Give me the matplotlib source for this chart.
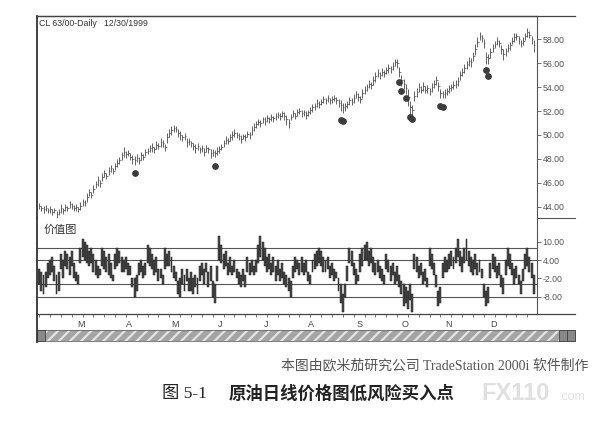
import numpy as np
import matplotlib
matplotlib.use("Agg")
import matplotlib.pyplot as plt
from matplotlib.lines import Line2D
from matplotlib.patches import Rectangle

plt.rcParams['font.family'] = ['Liberation Sans', 'Noto Sans CJK SC', 'DejaVu Sans']
plt.rcParams['hatch.linewidth'] = 1.6

# ── Data ──────────────────────────────────────────────────────────────────────
# daily closes of CL 03/00, Feb .. Dec 1999
close = [
    44.1, 43.9, 43.8, 43.9, 43.7, 43.8, 43.6, 43.7, 43.4, 43.6,
    43.9, 43.7, 44.0, 43.9, 44.2, 44.1, 43.9, 44.0, 43.8, 44.1,
    44.4, 44.3, 44.8, 45.2, 45.0, 45.5, 45.9, 46.2, 46.0, 46.5,
    46.8, 46.6, 47.0, 47.2, 47.0, 47.4, 47.7, 47.9, 48.3, 48.6,
    48.4, 48.5, 48.2, 48.0, 47.9, 48.1, 47.9, 48.3, 48.2, 48.6,
    48.7, 48.9, 49.0, 48.8, 49.2, 49.1, 49.4, 49.3, 49.0, 49.8,
    50.2, 50.4, 50.6, 50.5, 50.2, 50.0, 49.8, 49.9, 49.4, 49.5,
    49.3, 49.1, 48.9, 49.1, 48.8, 48.9, 48.6, 48.9, 48.8, 48.5,
    48.6, 48.5, 48.7, 48.8, 49.0, 49.3, 49.6, 49.5, 49.8, 50.0,
    50.2, 50.0, 49.9, 49.7, 49.9, 49.8, 50.1, 50.0, 50.4, 50.7,
    50.9, 51.1, 51.0, 51.3, 51.2, 51.4, 51.3, 51.5, 51.4, 51.6,
    51.7, 51.6, 51.8, 51.6, 51.3, 51.0, 51.5, 51.8, 51.6, 51.9,
    52.0, 51.8, 51.9, 51.7, 51.9, 52.1, 52.3, 52.4, 52.7, 52.6,
    52.8, 53.0, 52.9, 53.1, 52.9, 53.0, 53.1, 52.9, 52.7, 52.5,
    52.3, 52.4, 52.6, 52.9, 52.8, 53.1, 53.4, 53.2, 53.0, 53.5,
    53.8, 54.0, 54.3, 54.2, 54.6, 54.9, 55.2, 55.0, 55.3, 55.2,
    55.4, 55.6, 55.5, 55.8, 56.1, 56.0, 55.3, 54.6, 54.3, 53.9,
    53.2, 52.3, 52.1, 53.3, 53.6, 54.0, 53.8, 54.1, 53.8, 53.9,
    53.7, 54.0, 54.3, 54.6, 54.1, 53.5, 53.4, 53.5, 53.7, 53.9,
    54.0, 54.2, 54.3, 54.5, 55.0, 55.3, 55.6, 55.9, 56.2, 56.1,
    56.6, 57.2, 57.8, 58.3, 58.1, 57.7, 56.5, 56.4, 56.9, 57.3,
    57.6, 57.9, 57.7, 57.2, 56.8, 57.0, 57.3, 57.5, 57.9, 58.2,
    58.3, 58.0, 57.7, 57.9, 58.3, 58.6, 58.4, 58.0, 57.5,
]
# daily range, tenths of a dollar
rng10 = [
    5, 4, 6, 5, 4, 6, 5, 4, 6, 5,
    7, 5, 6, 4, 6, 5, 5, 6, 4, 6,
    6, 5, 7, 6, 5, 7, 6, 8, 6, 7,
    6, 5, 7, 6, 5, 6, 7, 6, 7, 8,
    6, 5, 6, 8, 8, 7, 6, 7, 5, 6,
    5, 6, 7, 5, 6, 5, 7, 6, 6, 8,
    6, 7, 6, 5, 6, 7, 5, 6, 8, 6,
    5, 6, 7, 6, 5, 6, 7, 6, 5, 7,
    6, 6, 7, 6, 5, 6, 7, 5, 6, 7,
    6, 5, 6, 7, 5, 6, 5, 6, 7, 6,
    6, 5, 6, 5, 7, 6, 5, 6, 5, 6,
    5, 6, 5, 7, 8, 8, 5, 6, 5, 6,
    5, 6, 5, 6, 5, 6, 7, 6, 7, 6,
    5, 6, 5, 6, 5, 6, 5, 6, 7, 9,
    8, 7, 6, 7, 6, 7, 6, 7, 6, 7,
    7, 6, 7, 6, 7, 8, 7, 6, 7, 6,
    6, 7, 6, 7, 6, 7, 8, 9, 8, 8,
    14, 12, 10, 9, 7, 8, 6, 7, 6, 7,
    6, 7, 6, 7, 8, 8, 6, 7, 6, 7,
    6, 7, 6, 7, 8, 7, 8, 7, 8, 7,
    8, 9, 8, 7, 6, 7, 10, 8, 9, 7,
    6, 7, 6, 8, 9, 7, 6, 7, 6, 7,
    6, 7, 6, 7, 6, 7, 6, 7, 10,
]
# value chart bars (high / low)
v_high = [
    1, 0, -1, 0, 3, 4, 5, 2, -1, 0,
    6, 4, 7, 6, 5, 7, 3, 0, -1, 8,
    11, 10, 9, 7, 8, 6, 4, 2, 1, 8,
    7, 5, 6, 3, -1, 6, 8, 7, 5, 4,
    5, 3, 2, -2, -2, -1, 3, 4, 2, 3,
    9, 8, 6, 4, 5, 1, 1, -1, 8, 6,
    7, 5, 2, 0, -3, -2, 1, -1, 1, -2,
    0, -2, -1, -2, 2, 3, 1, 3, 0, 2,
    -3, -4, 2, 12, 9, 6, 7, 3, 5, 2,
    4, 1, 0, -1, 1, -1, 5, 3, 4, 2,
    4, 9, 12, 10, 8, 5, 6, 3, 5, 2,
    4, 1, 3, 0, -1, -2, -3, 2, 5, 4,
    3, 5, 3, 4, 0, -1, 4, 6, 7, 8,
    7, 5, 4, 5, 2, 3, 1, 0, -2, -4,
    -7, -4, 2, 8, 7, 3, 1, -1, 6, 8,
    9, 10, 7, 8, 5, 3, 4, 2, 1, -1,
    6, 4, 2, 3, 0, 2, -1, -3, -4, -5,
    -6, -4, -7, 6, 5, 2, 3, 0, 1, -2,
    8, 6, 3, -1, -6, -5, 3, 5, 4, 6,
    7, 5, 8, 11, 7, 5, 8, 11, 7, 5,
    4, 6, 3, 4, 1, -4, -6, -5, 3, 6,
    5, 2, 3, -1, -2, 4, 8, 6, 3, 1,
    2, -1, -3, 1, 6, 8, 5, 3, -1,
]
v_low = [
    -4, -6, -7, -5, -2, -1, 0, -3, -7, -6,
    1, -2, 2, 1, -1, 2, -2, -3, -4, 3,
    5, 4, 3, 2, 3, 0, -1, -2, -1, 2,
    1, 0, -1, -2, -3, 1, 2, 3, 0, 0,
    1, -1, -1, -5, -8, -6, -1, 0, -2, -1,
    3, 2, 1, -1, 0, -3, -2, -4, 1, 2,
    2, 0, -2, -3, -7, -8, -4, -6, -3, -6,
    -6, -7, -5, -7, -3, -1, -4, 0, -5, -3,
    -8, -10, -3, 4, 3, 1, 2, -1, 0, -1,
    0, -2, -4, -5, -3, -5, 0, -1, 0, -1,
    0, 3, 5, 4, 2, 0, 1, -1, 0, -3,
    -1, -3, -2, -4, -5, -6, -8, -2, 0, 1,
    -1, 0, -1, 0, -3, -4, 0, 1, 2, 3,
    2, 0, 0, 1, -2, -1, -3, -2, -6, -10,
    -13, -8, -3, 3, 2, -1, -4, -3, 0, 2,
    4, 4, 2, 3, 0, -1, 0, -2, -3, -4,
    1, 0, -3, -1, -4, -3, -5, -7, -11, -10,
    -12, -9, -13, 1, 0, -2, -1, -4, -3, -5,
    2, 1, -1, -5, -11, -10, -2, 0, 0, 1,
    2, 1, 3, 5, 2, 0, 3, 4, 2, 0,
    -1, 1, -1, 0, -2, -8, -11, -10, -2, 1,
    0, -2, -1, -5, -7, -1, 2, 1, -1, -4,
    -2, -4, -7, -3, 1, 2, 0, -2, -7,
]
# low-risk buy points (bar index, price)
buy_idx = [44, 81, 139, 140, 166, 167, 169, 171, 172, 185, 186, 206, 207]
buy_px = [46.8, 47.4, 51.25, 51.15, 54.45, 53.7, 53.1, 51.5, 51.3, 52.4, 52.35, 55.4, 54.9]

month_labels = ["M", "A", "M", "J", "J", "A", "S", "O", "N", "D"]
month_start = [19, 41, 62, 83, 104, 125, 147, 168, 188, 209]
price_ticks = [44, 46, 48, 50, 52, 54, 56, 58]
value_ticks = [10, 4, -2, -8]
value_bands = [8, 4, -4, -8]

# ── Layout helpers (pixel coords, y from top) ─────────────────────────────────
W, H = 614, 429
fig = plt.figure(figsize=(W / 100, H / 100), dpi=100)
fig.patch.set_facecolor("white")


def box(x0, y0, x1, y1):
    return [x0 / W, 1 - y1 / H, (x1 - x0) / W, (y1 - y0) / H]


def fx(x):
    return x / W


def fy(y):
    return 1 - y / H


def fline(x0, y0, x1, y1, **kw):
    fig.add_artist(Line2D([fx(x0), fx(x1)], [fy(y0), fy(y1)],
                          transform=fig.transFigure, **kw))


ax_p = fig.add_axes(box(37, 16, 537, 218))
ax_v = fig.add_axes(box(37, 218, 537, 314), sharex=ax_p)
ax_m = fig.add_axes(box(37, 314, 537, 329), sharex=ax_p)

close = np.array(close)
rng = np.array(rng10) / 10.0
x = np.arange(len(close))
hi = close + 0.45 * rng
lo = close - 0.55 * rng

# ── Price panel ──────────────────────────────────────────────────────────────
ax_p.vlines(x, lo, hi, color="#4a4a4a", linewidth=0.6)
ax_p.hlines(close, x, x + 0.75, color="#4a4a4a", linewidth=0.5)
ax_p.scatter(buy_idx, buy_px, s=24, color="#3c3c3c", zorder=3, linewidths=0)

ax_p.set_xlim(-1, 229.5)
ax_p.set_ylim(43.06, 59.95)
ax_p.yaxis.tick_right()
ax_p.set_yticks(price_ticks)
ax_p.set_yticklabels([f"{t:.2f}" for t in price_ticks])

# ── Value chart panel ─────────────────────────────────────────────────────────
vh = np.array(v_high)
vl = np.array(v_low)
ax_v.bar(x, vh - vl, bottom=vl, width=0.9, color="#4a4a4a",
         edgecolor="#1e1e1e", linewidth=0.35)
for b in value_bands:
    ax_v.axhline(b, color="#555555", linewidth=0.8, zorder=0)
ax_v.set_ylim(-13.7, 17.8)
ax_v.yaxis.tick_right()
ax_v.set_yticks(value_ticks)
ax_v.set_yticklabels([f"{t:.2f}" for t in value_ticks])

for ax in (ax_p, ax_v):
    ax.set_facecolor("white")
    ax.tick_params(axis="y", direction="out", length=3, width=0.6,
                   colors="#555555", labelsize=6.3, pad=1)
    ax.tick_params(axis="x", bottom=False, labelbottom=False)
    ax.spines["left"].set_color("#333333")
    ax.spines["left"].set_linewidth(1.3)
    ax.spines["right"].set_color("#555555")
    ax.spines["right"].set_linewidth(0.8)

ax_p.spines["bottom"].set_visible(False)
ax_p.spines["top"].set_color("#444444")
ax_p.spines["top"].set_linewidth(0.9)
ax_v.spines["top"].set_visible(False)
ax_v.spines["bottom"].set_color("#444444")
ax_v.spines["bottom"].set_linewidth(0.9)

# ── Month strip ──────────────────────────────────────────────────────────────
ax_m.set_ylim(0, 1)
ax_m.axis("off")
ax_m.vlines(np.arange(0, len(close), 5), 0.78, 1.0, color="#555555", linewidth=0.6)
for m, i in zip(month_labels, month_start):
    ax_m.text(i + 0.5, 0.32, m, ha="center", va="center", fontsize=6.5, color="#444444")

# ── Frame, separators, scrollbar ──────────────────────────────────────────────
fline(37, 16, 575, 16, color="#444444", linewidth=0.9)
fline(537, 218, 575, 218, color="#555555", linewidth=0.8)
fline(537, 314, 575, 314, color="#444444", linewidth=0.9)
fline(37, 314, 37, 342, color="#333333", linewidth=1.3)

fig.add_artist(Rectangle((fx(37), fy(341)), fx(575) - fx(37), fy(330) - fy(341),
                         transform=fig.transFigure, facecolor="#a4a4a4",
                         edgecolor="#e4e4e4", hatch="///", linewidth=0))
fig.add_artist(Rectangle((fx(37), fy(341)), fx(575) - fx(37), fy(330) - fy(341),
                         transform=fig.transFigure, facecolor="none",
                         edgecolor="#666666", linewidth=0.6))
for bx in (37, 559, 567):
    fig.add_artist(Rectangle((fx(bx), fy(341)), fx(8), fy(330) - fy(341),
                             transform=fig.transFigure, facecolor="#888888",
                             edgecolor="#444444", linewidth=0.6))

# ── Texts ────────────────────────────────────────────────────────────────────
fig.text(fx(39), fy(24), "CL 63/00-Daily   12/30/1999", fontsize=6.3,
         color="#333333", va="center", ha="left")
fig.text(fx(44), fy(230), "价值图", fontsize=8, color="#333333",
         va="center", ha="left", family=["Noto Sans CJK SC", "DejaVu Sans"])

fig.text(fx(588), fy(366), "本图由欧米茄研究公司 TradeStation 2000i 软件制作",
         fontsize=10, color="#555555", ha="right", va="center",
         family=["Liberation Serif", "Noto Sans CJK SC"])
fig.text(fx(162), fy(394), "图 5-1", fontsize=12.5, color="#222222",
         ha="left", va="center", family=["Liberation Serif", "Noto Sans CJK SC"])
fig.text(fx(229), fy(394), "原油日线价格图低风险买入点", fontsize=12.5,
         fontweight="bold", color="#222222", ha="left", va="center",
         family=["Noto Sans CJK SC", "DejaVu Sans"])

fig.text(fx(481), fy(394), "FX110", fontsize=17, fontweight="bold",
         color="#e0e0e0", ha="left", va="center")
fig.text(fx(559), fy(397), ".com", fontsize=9, color="#e0e0e0",
         ha="left", va="center")

plt.savefig("out.png", dpi=100)
